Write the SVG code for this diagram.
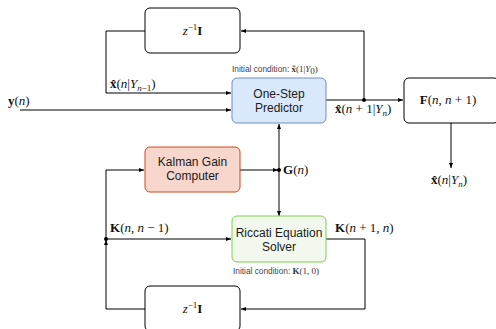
<svg xmlns="http://www.w3.org/2000/svg" width="496" height="329" viewBox="0 0 496 329">
<defs>
<marker id="ah" viewBox="0 0 10 10" refX="10" refY="5" markerWidth="5" markerHeight="5" orient="auto-start-reverse" markerUnits="userSpaceOnUse">
<path d="M0,1 L10,5 L0,9 Z" fill="#000"/>
</marker>
<style>
.box{stroke:#000;stroke-width:1;fill:#fff}
.ln{stroke:#000;stroke-width:1;fill:none}
.lbl{font-family:"Liberation Sans",Arial,sans-serif;font-size:12px;fill:#1a1a1a;text-anchor:middle}
.small{font-family:"Liberation Sans",Arial,sans-serif;font-size:8.3px;fill:#444}
.m{font-family:"Liberation Serif","Times New Roman",serif;font-size:13px;fill:#111}
.ms{font-family:"Liberation Serif","Times New Roman",serif;font-size:9px;fill:#333}
.i{font-style:italic}
.b{font-weight:bold}
</style>
</defs>
<rect width="496" height="329" fill="#fff"/>
<g id="connectors">
<polyline class="ln" points="145,31 106,31 106,93 231,93" marker-end="url(#ah)"/>
<line class="ln" x1="20" y1="110" x2="231" y2="110" marker-end="url(#ah)"/>
<line class="ln" x1="326" y1="100" x2="403" y2="100" marker-end="url(#ah)"/>
<polyline class="ln" points="364,100 364,31 241,31" marker-end="url(#ah)"/>
<circle cx="364" cy="100" r="2" fill="#000"/>
<line class="ln" x1="451" y1="123" x2="451" y2="168" marker-end="url(#ah)"/>
<line class="ln" x1="240" y1="170" x2="278" y2="170" marker-end="url(#ah)"/>
<line class="ln" x1="279" y1="124" x2="279" y2="216" marker-start="url(#ah)" marker-end="url(#ah)"/>
<circle cx="279" cy="170" r="2" fill="#000"/>
<polyline class="ln" points="106,239 106,170 144,170" marker-end="url(#ah)"/>
<line class="ln" x1="106" y1="239" x2="231" y2="239" marker-end="url(#ah)"/>
<polyline class="ln" points="145,309 106,309 106,240" marker-end="url(#ah)"/>
<circle cx="106" cy="239" r="2" fill="#000"/>
<polyline class="ln" points="326,239 365,239 365,309 241,309" marker-end="url(#ah)"/>
</g>
<g id="delay-top">
<rect class="box" x="145" y="8" width="95" height="45" rx="5"/>
<text class="m" x="192.5" y="35" text-anchor="middle"><tspan class="i">z</tspan><tspan font-size="9" dy="-5">−1</tspan><tspan class="b" dy="5">I</tspan></text>
</g>
<g id="predictor">
<rect x="232" y="78" width="94" height="45" rx="5" fill="#dae8fc" stroke="#6c8ebf"/>
<text class="lbl" x="279" y="98">One-Step</text>
<text class="lbl" x="279" y="112">Predictor</text>
<text class="small" x="232" y="72">Initial condition: <tspan class="ms b">x̂</tspan><tspan class="ms">(1|</tspan><tspan class="ms i">Y</tspan><tspan class="ms" font-size="6.5" dy="1.5">0</tspan><tspan class="ms" dy="-1.5">)</tspan></text>
</g>
<g id="F-block">
<rect class="box" x="404" y="78" width="95" height="45" rx="5"/>
<text class="m" x="448" y="104" text-anchor="middle"><tspan class="b">F</tspan>(<tspan class="i">n</tspan>, <tspan class="i">n</tspan> + 1)</text>
</g>
<g id="kalman">
<rect x="145" y="147" width="95" height="45" rx="5" fill="#f7d6cc" stroke="#cc4b1e"/>
<text class="lbl" x="192.5" y="166">Kalman Gain</text>
<text class="lbl" x="192.5" y="180">Computer</text>
</g>
<g id="riccati">
<rect x="232" y="216" width="94" height="46" rx="5" fill="#f2f8ee" stroke="#7ccf50"/>
<text class="lbl" x="279" y="237">Riccati Equation</text>
<text class="lbl" x="279" y="251">Solver</text>
<text class="small" x="233" y="274">Initial condition: <tspan class="ms b">K</tspan><tspan class="ms">(1, 0)</tspan></text>
</g>
<g id="delay-bottom">
<rect class="box" x="145" y="286" width="95" height="45" rx="5"/>
<text class="m" x="192.5" y="313" text-anchor="middle"><tspan class="i">z</tspan><tspan font-size="9" dy="-5">−1</tspan><tspan class="b" dy="5">I</tspan></text>
</g>
<g id="labels">
<text class="m" x="8" y="105"><tspan class="b">y</tspan>(<tspan class="i">n</tspan>)</text>
<text class="m" x="110" y="88"><tspan class="b">x̂</tspan>(<tspan class="i">n</tspan>|<tspan class="i">Y</tspan><tspan font-size="9" dy="2.5"><tspan class="i">n</tspan>−1</tspan><tspan dy="-2.5">)</tspan></text>
<text class="m" x="335" y="113"><tspan class="b">x̂</tspan>(<tspan class="i">n</tspan> + 1|<tspan class="i">Y</tspan><tspan font-size="9" dy="2.5" class="i">n</tspan><tspan dy="-2.5">)</tspan></text>
<text class="m" x="283" y="174"><tspan class="b">G</tspan>(<tspan class="i">n</tspan>)</text>
<text class="m" x="431" y="184"><tspan class="b">x̂</tspan>(<tspan class="i">n</tspan>|<tspan class="i">Y</tspan><tspan font-size="9" dy="2.5" class="i">n</tspan><tspan dy="-2.5">)</tspan></text>
<text class="m" x="110" y="232"><tspan class="b">K</tspan>(<tspan class="i">n</tspan>, <tspan class="i">n</tspan> − 1)</text>
<text class="m" x="335" y="232"><tspan class="b">K</tspan>(<tspan class="i">n</tspan> + 1, <tspan class="i">n</tspan>)</text>
</g>
</svg>
